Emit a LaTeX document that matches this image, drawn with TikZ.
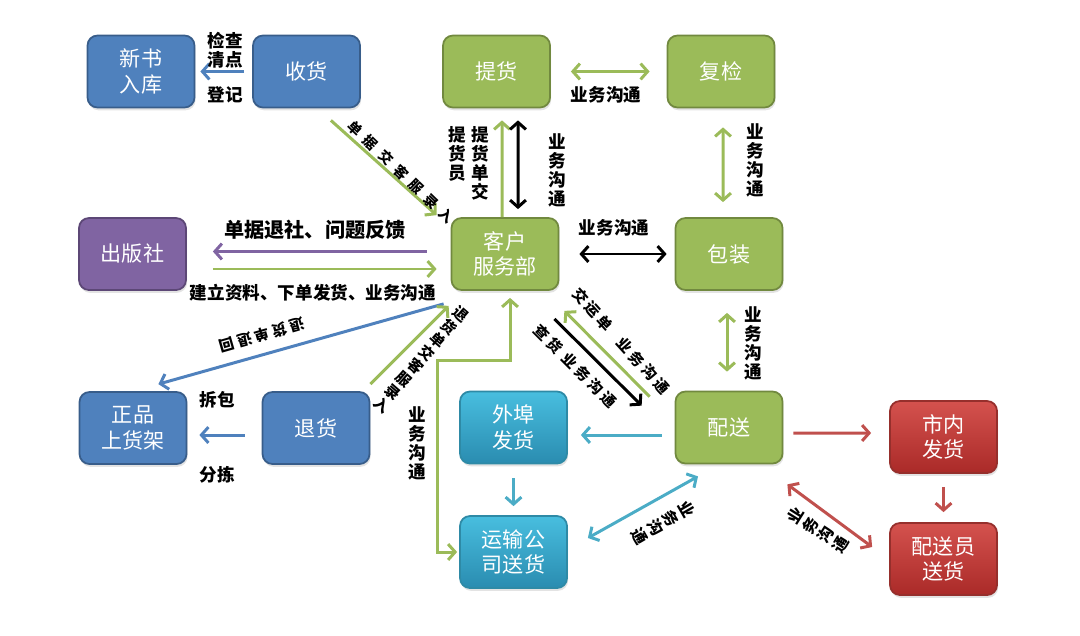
\documentclass[tikz,border=0pt]{standalone}
\usepackage{fontspec}
\setmainfont{Noto Sans CJK SC}
\definecolor{lgblue}{HTML}{4F81BD}
\definecolor{lgblueD}{HTML}{385D8A}
\definecolor{lggreen}{HTML}{9BBB59}
\definecolor{lggreenD}{HTML}{71893F}
\definecolor{lgpurple}{HTML}{8064A2}
\definecolor{lgpurpleD}{HTML}{5C4776}
\definecolor{lgtealT}{HTML}{48BEDF}
\definecolor{lgtealB}{HTML}{2A8CB0}
\definecolor{lgteal}{HTML}{4BACC6}
\definecolor{lgtealD}{HTML}{2E8AA6}
\definecolor{lgredT}{HTML}{D4524E}
\definecolor{lgredB}{HTML}{AA2A28}
\definecolor{lgred}{HTML}{C0504D}
\definecolor{lgredD}{HTML}{962F2C}
\newcommand{\gp}{\hspace{0.22em}}
\newcommand{\wgp}{\hspace{0.5em}}
\usepackage{tikz}
\usetikzlibrary{arrows.meta, shadows}

\begin{document}
\begin{tikzpicture}[
  every node/.style={align=center, inner sep=0pt},
  box/.style={rounded corners=0.2cm, minimum width=2.14cm, minimum height=1.44cm,
              draw, line width=1pt, text=white, font=\fontsize{12}{14.5}\selectfont,
              drop shadow={opacity=0.22, shadow xshift=0.6pt, shadow yshift=-1.6pt}},
  lbl/.style={font=\fontsize{10}{10.8}\selectfont\bfseries},
  slbl/.style={font=\fontsize{8.5}{9.8}\selectfont\bfseries},
  conn/.style={line width=1.7pt},
  >={Straight Barb[length=4pt, width=9pt]},
]
  \useasboundingbox (0,0) rectangle (21.6,-12.7);

  % Row 1 - receiving and pick-up
  \node[box, fill=lgblue, draw=lgblueD] (ru) at (2.82,-1.43) {新书\\入库};
  \node[box, fill=lgblue, draw=lgblueD] (sh) at (6.13,-1.43) {收货};
  \node[box, fill=lggreen, draw=lggreenD] (th) at (9.93,-1.43) {提货};
  \node[box, fill=lggreen, draw=lggreenD] (fj) at (14.42,-1.43) {复检};

  % Row 2 - service desk
  \node[box, fill=lgpurple, draw=lgpurpleD] (cbs) at (2.65,-5.08) {出版社};
  \node[box, fill=lggreen, draw=lggreenD] (kf) at (10.10,-5.08) {客户\\服务部};
  \node[box, fill=lggreen, draw=lggreenD] (bz) at (14.58,-5.08) {包装};

  % Row 3 - returns and delivery
  \node[box, fill=lgblue, draw=lgblueD] (zp) at (2.66,-8.56) {正品\\上货架};
  \node[box, fill=lgblue, draw=lgblueD] (thg) at (6.32,-8.56) {退货};
  \node[box, top color=lgtealT, bottom color=lgtealB, draw=lgtealD] (wb) at (10.27,-8.55) {外埠\\发货};
  \node[box, fill=lggreen, draw=lggreenD] (ps) at (14.58,-8.55) {配送};
  \node[box, top color=lgredT, bottom color=lgredB, draw=lgredD] (sn) at (18.87,-8.74) {市内\\发货};

  % Row 4 - carriers
  \node[box, top color=lgtealT, bottom color=lgtealB, draw=lgtealD] (ys) at (10.27,-11.04) {运输公\\司送货};
  \node[box, top color=lgredT, bottom color=lgredB, draw=lgredD] (psy) at (18.87,-11.18) {配送员\\送货};

  \coordinate (bend) at (8.74,-7.2);

  % Arrows
  \draw[conn, ->, lgblue, shorten <=0.16cm, shorten >=0.1cm] (sh) -- (ru);
  \draw[conn, ->, lggreen] ([xshift=-0.6cm, yshift=-0.24cm]sh.south east) -- ([xshift=-0.28cm, yshift=0.04cm]kf.north west);
  \draw[conn, ->, lggreen] ([xshift=-0.06cm]kf.north) -- ([xshift=0.11cm, yshift=-0.24cm]th.south);
  \draw[conn, <->, black] ([xshift=0.26cm, yshift=0.16cm]kf.north) -- ([xshift=0.43cm, yshift=-0.24cm]th.south);
  \draw[conn, <->, lggreen, shorten <=0.4cm, shorten >=0.34cm] (th) -- (fj);
  \draw[conn, <->, lggreen, shorten <=0.38cm, shorten >=0.3cm] ([xshift=0.04cm]fj.south) -- ([xshift=-0.12cm]bz.north);
  \draw[conn, <->, black, shorten <=0.4cm, shorten >=0.16cm] (kf) -- (bz);
  \draw[conn, <->, lggreen, shorten <=0.44cm, shorten >=0.38cm] ([xshift=-0.04cm]bz.south) -- ([xshift=-0.04cm]ps.north);
  \draw[conn, ->, lgpurple, shorten <=0.48cm, shorten >=0.52cm] ([yshift=0.05cm]kf.west) -- ([yshift=0.05cm]cbs.east);
  \draw[conn, ->, lggreen, shorten <=0.52cm, shorten >=0.28cm] ([yshift=-0.3cm]cbs.east) -- ([yshift=-0.3cm]kf.west);
  \draw[conn, ->, lgblue] ([xshift=-0.14cm, yshift=-0.26cm]kf.south west) -- ([xshift=-0.58cm, yshift=0.14cm]zp.north east);
  \draw[conn, ->, lgblue, shorten <=0.34cm, shorten >=0.24cm] ([yshift=-0.14cm]thg.west) -- ([yshift=-0.14cm]zp.east);
  \draw[conn, ->, lggreen] ([yshift=0.14cm]thg.north east) -- ([xshift=-0.04cm, yshift=-0.3cm]kf.south west);
  \draw[conn, ->, black] ([xshift=-0.1cm, yshift=-0.56cm]kf.south east) -- ([xshift=-0.66cm, yshift=-0.3cm]ps.north west);
  \draw[conn, ->, lggreen] ([xshift=-0.5cm, yshift=-0.12cm]ps.north west) -- ([xshift=0.1cm, yshift=-0.4cm]kf.south east);
  \draw[conn, <->, lggreen, shorten <=0.14cm, shorten >=0.04cm] ([xshift=0.1cm]kf.south) |- (bend) |- (ys.west);
  \draw[conn, ->, lgteal, shorten <=0.26cm, shorten >=0.26cm] ([yshift=-0.15cm]ps.west) -- ([yshift=-0.15cm]wb.east);
  \draw[conn, ->, lgteal, shorten <=0.28cm, shorten >=0.18cm] (wb) -- (ys);
  \draw[conn, <->, lgteal] ([xshift=0.4cm, yshift=0.28cm]ys.east) -- ([xshift=-0.62cm, yshift=-0.24cm]ps.south);
  \draw[conn, ->, lgred, shorten <=0.2cm, shorten >=0.36cm] ([yshift=-0.11cm]ps.east) -- ([yshift=0.08cm]sn.west);
  \draw[conn, ->, lgred, shorten <=0.26cm, shorten >=0.2cm] (sn) -- (psy);
  \draw[conn, <->, lgred] ([xshift=0.08cm, yshift=-0.4cm]ps.south east) -- ([xshift=-0.34cm, yshift=0.24cm]psy.west);

  % Labels
  \node[lbl] (jc) at (4.5,-1.0) {检查\\清点};
  \node[lbl] (dj) at (4.5,-1.9) {登记};
  \node[lbl, anchor=north] (thy) at (9.14,-2.52) {提\\货\\员};
  \node[lbl, anchor=north] (thd) at (9.6,-2.52) {提\\货\\单\\交};
  \node[lbl] (yw1) at (11.14,-3.4) {业\\务\\沟\\通};
  \node[lbl] (yw2) at (12.12,-1.9) {业务沟通};
  \node[lbl] (yw3) at (15.1,-3.2) {业\\务\\沟\\通};
  \node[lbl] (yw4) at (12.28,-4.56) {业务沟通};
  \node[lbl] (yw5) at (15.06,-6.86) {业\\务\\沟\\通};
  \node[lbl] (yw6) at (8.34,-8.86) {业\\务\\沟\\通};
  \node[lbl, font=\fontsize{11.5}{13}\selectfont\bfseries] (ts) at (6.3,-4.6) {单据退社、问题反馈};
  \node[lbl] (jl) at (6.26,-5.86) {建立资料、下单发货、业务沟通};
  \node[lbl] (cb) at (4.34,-8.0) {拆包};
  \node[lbl] (fl) at (4.34,-9.5) {分拣};
  \node[slbl, font=\fontsize{8}{9}\selectfont\bfseries, rotate=-44] (djl) at (8.02,-3.44) {单\wgp 据\wgp 交\wgp 客\wgp 服\wgp 录\wgp 入};
  \node[slbl, rotate=196] (thh) at (5.24,-6.7) {退\gp 货\gp 单\gp 退\gp 回};
  \node[slbl, rotate=-41] (thj) at (8.42,-7.2) {退\\货\\单\\交\\客\\服\\录\\入};
  \node[slbl, rotate=-45] (chh) at (11.5,-7.32) {查\gp 货\gp\gp 业\gp 务\gp 沟\gp 通};
  \node[slbl, rotate=-48] (jyd) at (12.42,-6.82) {交\gp 运\gp 单\wgp\wgp 业\gp 务\gp 沟\gp 通};
  \node[slbl, font=\fontsize{9}{10.2}\selectfont\bfseries, rotate=-60] (yw7) at (13.26,-10.46) {业\\务\\沟\\通};
  \node[slbl, font=\fontsize{9}{10.2}\selectfont\bfseries, rotate=58] (yw8) at (16.36,-10.6) {业\\务\\沟\\通};
\end{tikzpicture}
\end{document}
